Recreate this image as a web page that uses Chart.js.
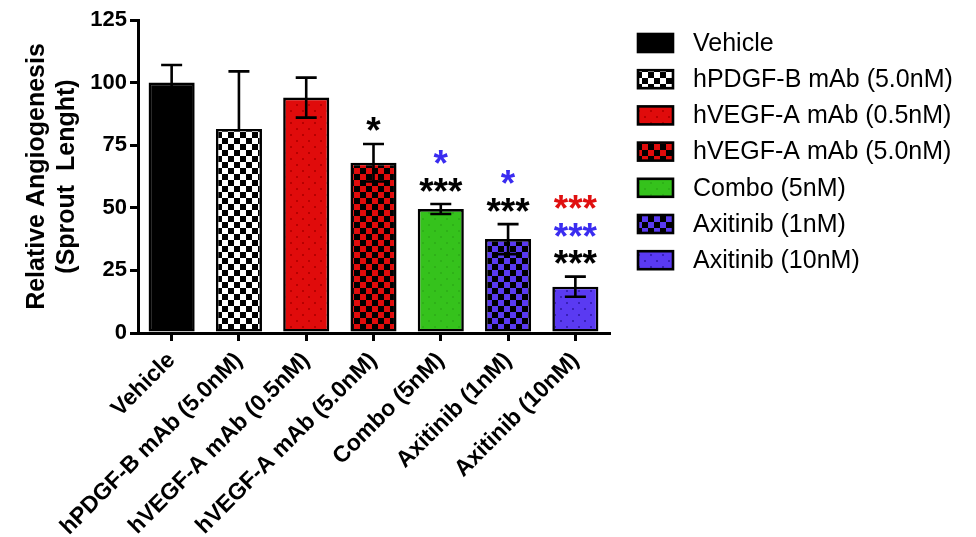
<!DOCTYPE html>
<html>
<head>
<meta charset="utf-8">
<script src="https://cdn.jsdelivr.net/npm/chart.js@4.4.1/dist/chart.umd.min.js"></script>
<style>
html,body{margin:0;padding:0;background:#fff;}
#wrap{width:976px;height:537px;position:relative;}
</style>
</head>
<body>
<div id="wrap"><canvas id="c"></canvas></div>
<script>
// ---- data ----
const categories = ['Vehicle', 'hPDGF-B mAb (5.0nM)', 'hVEGF-A mAb (0.5nM)', 'hVEGF-A mAb (5.0nM)', 'Combo (5nM)', 'Axitinib (1nM)', 'Axitinib (10nM)'];
const meanValues = [100, 81.5, 94, 68, 49.5, 37.5, 18.5];
const errorUp = [7, 23, 8, 7.5, 2, 6, 4];
const errorLow = [7, 0, 8, 7.5, 2, 6, 4];
const yTicks = [0, 25, 50, 75, 100, 125];
const yTitle = ['Relative Angiogenesis', '(Sprout  Lenght)'];
// significance marks, listed bottom to top per category
const sigMarks = [[], [], [], ['*'], ['***', '*'], ['***', '*'], ['***', '***', '***']];
const sigGroups = [[], [], [], ['vehicle'], ['vehicle', 'axitinib'], ['vehicle', 'axitinib'], ['vehicle', 'axitinib', 'vegf']];

// ---- styles ----
const FONT = '"Liberation Sans", Arial, Helvetica, sans-serif';
const RED = '#e00b0b', GREEN = '#35c21c', PURPLE = '#5a3af2';
const sigColor = {vehicle: '#000000', axitinib: '#3a2cf0', vegf: '#e01010'};

function makePattern(kind, a, b) {
  const c = document.createElement('canvas');
  const s = 12;
  c.width = s; c.height = s;
  const g = c.getContext('2d');
  g.fillStyle = a; g.fillRect(0, 0, s, s);
  g.fillStyle = b;
  if (kind === 'checker') {
    g.fillRect(0, 0, 6, 6); g.fillRect(6, 6, 6, 6);
  } else if (kind === 'dots') {
    g.fillRect(2, 2, 2, 2); g.fillRect(8, 8, 2, 2);
  }
  return g.createPattern(c, 'repeat');
}
const fills = [
  '#000000',
  makePattern('checker', '#ffffff', '#000000'),
  makePattern('dots', RED, '#b80000'),
  makePattern('checker', RED, '#000000'),
  makePattern('dots', GREEN, '#2eb118'),
  makePattern('checker', PURPLE, '#000000'),
  makePattern('dots', PURPLE, '#3820b8')
];

const extrasPlugin = {
  id: 'extras',
  afterDatasetsDraw(chart) {
    const ctx = chart.ctx;
    const meta = chart.getDatasetMeta(0);
    const ys = chart.scales.y;
    ctx.save();
    // error bars
    ctx.strokeStyle = '#000'; ctx.lineWidth = 2.6; ctx.lineCap = 'butt';
    meta.data.forEach((bar, i) => {
      const x = bar.x;
      const mid = ys.getPixelForValue(meanValues[i]);
      const top = ys.getPixelForValue(meanValues[i] + errorUp[i]);
      const bot = ys.getPixelForValue(meanValues[i] - errorLow[i]);
      const cap = 10.5;
      ctx.beginPath();
      ctx.moveTo(x, top); ctx.lineTo(x, mid);
      ctx.moveTo(x - cap, top); ctx.lineTo(x + cap, top);
      if (errorLow[i] > 0) {
        ctx.moveTo(x, mid); ctx.lineTo(x, bot);
        ctx.moveTo(x - cap, bot); ctx.lineTo(x + cap, bot);
      }
      ctx.stroke();
    });
    // significance stars
    const size = 37;
    ctx.font = 'bold ' + size + 'px ' + FONT;
    ctx.textAlign = 'center'; ctx.textBaseline = 'alphabetic';
    meta.data.forEach((bar, i) => {
      const top = ys.getPixelForValue(meanValues[i] + errorUp[i]);
      sigMarks[i].forEach((m, k) => {
        const cy = top - 22 - k * 27.5;
        ctx.fillStyle = sigColor[sigGroups[i][k]];
        ctx.fillText(m, bar.x, cy + size * 0.58);
      });
    });
    // legend
    const lx = 638, ly = 34, bw = 35, bh = 18, step = 36.2;
    ctx.font = '25px ' + FONT;
    ctx.textAlign = 'left'; ctx.textBaseline = 'middle';
    categories.forEach((name, i) => {
      const y = ly + i * step;
      ctx.fillStyle = fills[i];
      ctx.fillRect(lx, y, bw, bh);
      ctx.lineWidth = 2.6; ctx.strokeStyle = '#000';
      ctx.strokeRect(lx, y, bw, bh);
      ctx.fillStyle = '#000';
      ctx.fillText(name, 693, y + bh / 2 + 1);
    });
    ctx.restore();
  }
};

new Chart(document.getElementById('c'), {
  type: 'bar',
  data: {
    labels: categories,
    datasets: [{
      data: meanValues,
      backgroundColor: fills,
      borderColor: '#000',
      borderWidth: 2.6,
      borderSkipped: false,
      barPercentage: 0.685,
      categoryPercentage: 1.0
    }]
  },
  options: {
    responsive: true,
    maintainAspectRatio: false,
    animation: false,
    devicePixelRatio: 1,
    layout: {padding: {left: 0, top: 20, right: 367, bottom: 0}},
    plugins: {legend: {display: false}, tooltip: {enabled: false}},
    scales: {
      x: {
        offset: true,
        border: {display: true, color: '#000', width: 3},
        grid: {display: true, drawOnChartArea: false, drawTicks: true, tickLength: 8, color: '#000', lineWidth: 3, offset: false},
        ticks: {color: '#000', font: {family: FONT, size: 23, weight: 'bold'}, minRotation: 45, maxRotation: 45, autoSkip: false, padding: 6},
        afterFit(scale) { scale.height = 204; }
      },
      y: {
        min: 0, max: 125,
        afterBuildTicks(scale) { scale.ticks = yTicks.map(v => ({value: v})); },
        border: {display: true, color: '#000', width: 3},
        grid: {display: true, drawOnChartArea: false, drawTicks: true, tickLength: 8, color: '#000', lineWidth: 3},
        ticks: {color: '#000', font: {family: FONT, size: 22, weight: 'bold'}, padding: 3},
        title: {display: true, text: yTitle, color: '#000', font: {family: FONT, size: 25, weight: 'bold'}, padding: {top: 22, bottom: 4}},
        afterFit(scale) { scale.width = 138; }
      }
    }
  },
  plugins: [extrasPlugin]
});
</script>
</body>
</html>
